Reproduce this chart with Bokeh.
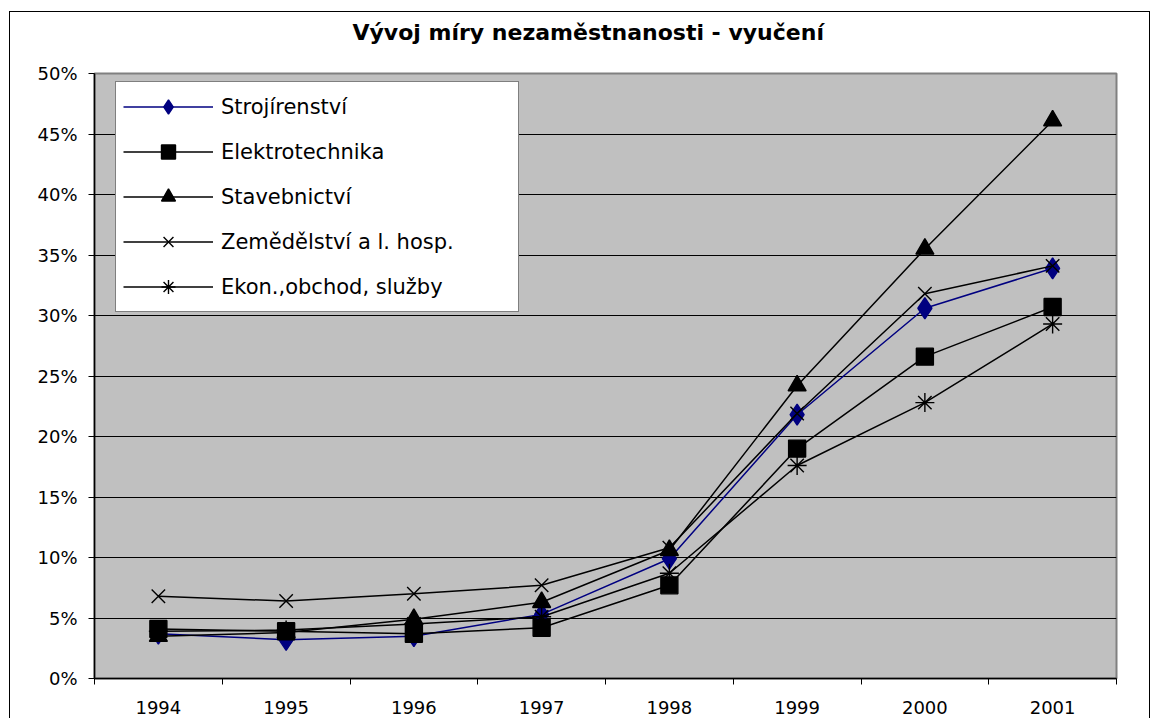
from bokeh.plotting import figure
from bokeh.models import FixedTicker, Legend, LegendItem, Range1d, Title
from bokeh.embed import file_html
from bokeh.resources import INLINE

# ---- data (unemployment rate, %) ----
years = ["1994", "1995", "1996", "1997", "1998", "1999", "2000", "2001"]
strojirenstvi = [3.7, 3.2, 3.5, 5.3, 9.9, 21.8, 30.6, 33.9]
elektrotechnika = [4.1, 3.9, 3.7, 4.2, 7.7, 19.0, 26.6, 30.7]
stavebnictvi = [3.5, 3.8, 4.9, 6.3, 10.6, 24.2, 35.5, 46.1]
zemedelstvi = [6.8, 6.4, 7.0, 7.7, 10.8, 21.9, 31.8, 34.1]
ekonomika = [3.9, 4.0, 4.5, 5.1, 8.7, 17.6, 22.8, 29.3]

series_names = ["Strojírenství", "Elektrotechnika", "Stavebnictví",
                "Zemědělství a l. hosp.", "Ekon.,obchod, služby"]
y_ticks = [0, 5, 10, 15, 20, 25, 30, 35, 40, 45, 50]
y_tick_labels = ["0%", "5%", "10%", "15%", "20%", "25%", "30%", "35%", "40%", "45%", "50%"]
title_text = "Vývoj míry nezaměstnanosti - vyučení"

FONT = "DejaVu Sans"

x = [i + 0.5 for i in range(len(years))]

p = figure(width=1141, height=707, output_backend="svg", toolbar_location=None,
           x_range=Range1d(0, len(years)), y_range=Range1d(0, 50),
           min_border_left=84, min_border_right=35, min_border_top=61, min_border_bottom=41,
           background_fill_color="#C0C0C0", border_fill_color="white")
p.styles = {"margin-left": "9px", "margin-top": "11px",
            "border-top": "1px solid black", "border-left": "1px solid black",
            "border-right": "1px solid black"}

# spacer between plot frame and title (keeps the title higher up)
spacer = Title(text=" ", text_font_size="2px", standoff=25)
p.add_layout(spacer, "above")

p.title.text = title_text
p.title.align = "left"
p.title.offset = 258
p.title.standoff = 0
p.title.text_font = FONT
p.title.text_font_size = "22px"
p.title.text_font_style = "bold"
p.title.text_color = "black"

p.outline_line_color = "#808080"
p.outline_line_width = 2

# y axis
yt = FixedTicker(ticks=y_ticks)
p.yaxis.ticker = yt
p.yaxis.major_label_overrides = {t: l for t, l in zip(y_ticks, y_tick_labels)}
p.yaxis.major_tick_out = 6
p.yaxis.major_tick_in = 0
p.yaxis.minor_tick_out = 0
p.yaxis.major_label_standoff = 11
p.yaxis.major_label_text_font = FONT
p.yaxis.major_label_text_font_size = "18px"
p.yaxis.major_label_text_color = "black"
p.yaxis.axis_line_color = "black"
p.yaxis.axis_line_width = 1.5
p.yaxis.major_tick_line_color = "black"

# x axis: labels centred in categories, ticks at category boundaries
xt = FixedTicker(ticks=x, minor_ticks=list(range(len(years) + 1)))
p.xaxis.ticker = xt
p.xaxis.major_label_overrides = {xi: y for xi, y in zip(x, years)}
p.xaxis.major_tick_out = 0
p.xaxis.major_tick_in = 0
p.xaxis.minor_tick_out = 6
p.xaxis.minor_tick_in = 0
p.xaxis.minor_tick_line_color = "black"
p.xaxis.major_label_standoff = 16
p.xaxis.major_label_text_font = FONT
p.xaxis.major_label_text_font_size = "18px"
p.xaxis.major_label_text_color = "black"
p.xaxis.axis_line_color = "black"
p.xaxis.axis_line_width = 1.5

p.xgrid.visible = False
p.ygrid.ticker = yt
p.ygrid.grid_line_color = "black"
p.ygrid.grid_line_width = 1

styles = [
    dict(data=strojirenstvi, color="#000080", marker="diamond", size=21),
    dict(data=elektrotechnika, color="black", marker="square", size=17),
    dict(data=stavebnictvi, color="black", marker="triangle", size=18),
    dict(data=zemedelstvi, color="black", marker="x", size=19),
    dict(data=ekonomika, color="black", marker="asterisk", size=19),
]

items = []
for name, st in zip(series_names, styles):
    lr = p.line(x, st["data"], line_color=st["color"], line_width=1.5)
    sr = p.scatter(x, st["data"], marker=st["marker"], size=st["size"],
                   fill_color=st["color"], line_color=st["color"], line_width=1.4)
    items.append(LegendItem(label=name, renderers=[lr, sr]))

legend = Legend(items=items, location=(21, 366),
                border_line_color="black", border_line_width=1,
                background_fill_color="white", background_fill_alpha=1.0,
                padding=7, spacing=10, glyph_height=35, glyph_width=90,
                label_height=35, label_width=290, label_standoff=8,
                label_text_font=FONT, label_text_font_size="21px",
                label_text_color="black")
p.add_layout(legend)

with open("out.html", "w", encoding="utf-8") as f:
    f.write(file_html(p, INLINE))
